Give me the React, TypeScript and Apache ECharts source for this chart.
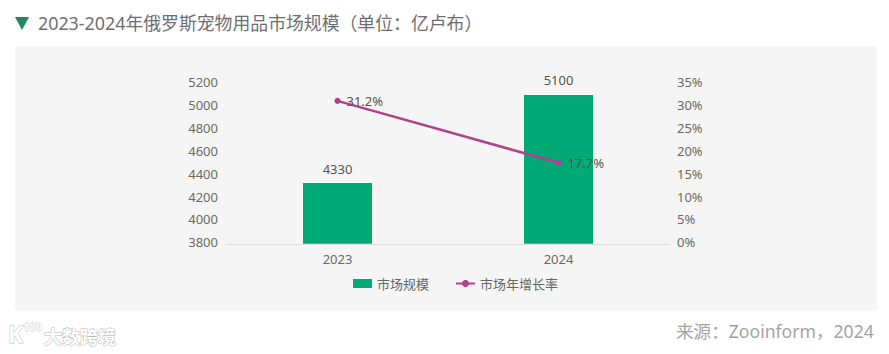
import React, { useEffect, useRef } from "react";
import * as echarts from "echarts";

const years = ["2023", "2024"];
const marketSize = [4330, 5100];
const growthRate = [31.2, 17.7];
const FONT = '"Noto Sans", "Noto Sans CJK SC", sans-serif';
const tickRich = { t: { color: "#6b6b60", fontSize: 13, fontFamily: FONT, padding: [0, 0, 3, 0] } };

export default function App() {
  const ref = useRef<HTMLDivElement>(null);
  useEffect(() => {
    document.body.style.margin = "0";
    const chart = echarts.init(ref.current!, null, { renderer: "svg" });
    chart.setOption({
      animation: false,
      backgroundColor: "#ffffff",
      textStyle: { fontFamily: FONT },
      grid: { left: 227, right: 220, top: 83.5, height: 160.3 },
      graphic: [
        { type: "rect", z: -10, shape: { x: 15, y: 46, width: 862, height: 265, r: 4 }, style: { fill: "#f5f5f5" } },
        { type: "polygon", shape: { points: [[15, 17], [29, 17], [22, 30]] }, style: { fill: "#1f8a5b" } },
        { type: "text", x: 38, y: 14, style: { text: "2023-2024年俄罗斯宠物用品市场规模（单位：亿卢布）", fill: "#6e6e6e", font: `17.85px ${FONT}` } },
        { type: "text", x: 676, y: 322, style: { text: "来源：Zooinform，2024", fill: "#a3a3a3", font: `17.6px ${FONT}` } },
        { type: "text", x: 8, y: 322, style: { text: "K", fill: "#ffffff", stroke: "#bbbbbb", lineWidth: 1, font: `bold 23px ${FONT}` } },
        { type: "text", x: 23, y: 321, style: { text: "100", fill: "#ffffff", stroke: "#bbbbbb", lineWidth: 0.8, font: `bold 11px ${FONT}` } },
        { type: "text", x: 44, y: 328, style: { text: "大数跨境", fill: "#ffffff", stroke: "#b8b8b8", lineWidth: 1, font: `bold 18px ${FONT}` } },
      ],
      legend: {
        left: 348,
        top: 272,
        itemGap: 26,
        itemWidth: 19,
        itemHeight: 9,
        textStyle: { color: "#666666", fontSize: 13, fontFamily: FONT },
        data: [{ name: "市场规模", icon: "rect" }, { name: "市场年增长率" }],
      },
      xAxis: {
        type: "category",
        data: years,
        axisTick: { show: false },
        axisLine: { lineStyle: { color: "#dddddd", width: 1 } },
        axisLabel: { color: "#6b6b60", fontSize: 13, margin: 9 },
      },
      yAxis: [
        {
          type: "value", min: 3800, max: 5200, interval: 200,
          splitLine: { show: false }, axisLine: { show: false }, axisTick: { show: false },
          axisLabel: { margin: 9, rich: tickRich, formatter: (v: number) => `{t|${v}}` },
        },
        {
          type: "value", min: 0, max: 35, interval: 5,
          splitLine: { show: false }, axisLine: { show: false }, axisTick: { show: false },
          axisLabel: { margin: 8, rich: tickRich, formatter: (v: number) => `{t|${v}%}` },
        },
      ],
      series: [
        {
          name: "市场规模", type: "bar", data: marketSize, barWidth: 69,
          itemStyle: { color: "#00a976" },
          label: { show: true, position: "top", color: "#55554a", fontSize: 13, distance: 8 },
        },
        {
          name: "市场年增长率", type: "line", yAxisIndex: 1, data: growthRate,
          symbol: "circle", symbolSize: 6,
          lineStyle: { color: "#b0418a", width: 2.5 },
          itemStyle: { color: "#b0418a" },
          label: { show: true, position: "right", distance: 6, color: "#55554a", fontSize: 13, padding: [0, 0, 2, 0], formatter: "{c}%" },
        },
      ],
    });
    return () => chart.dispose();
  }, []);
  return <div ref={ref} style={{ width: 889, height: 354 }} />;
}
